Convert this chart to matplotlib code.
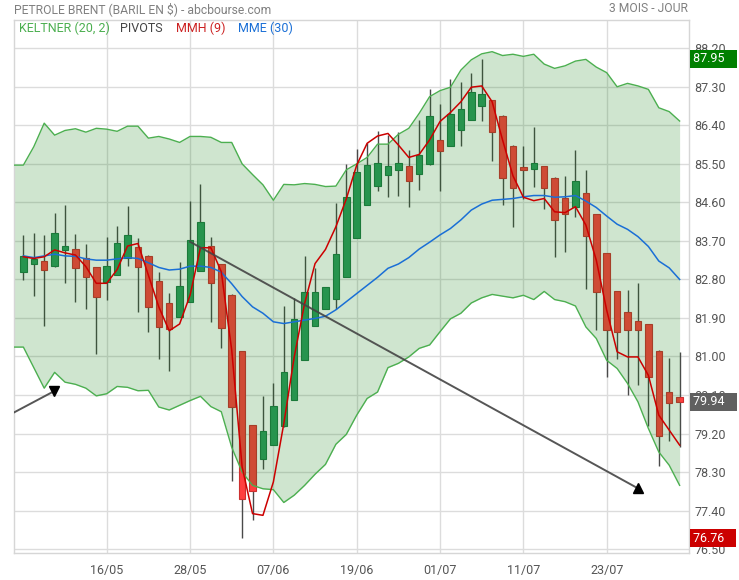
import numpy as np
import pandas as pd
import matplotlib
matplotlib.use("Agg")
import matplotlib.pyplot as plt
import matplotlib.transforms as mtransforms

plt.rcParams['font.family'] = ['Roboto', 'DejaVu Sans']

# Daily candles, 06/05 -> 01/08 (trading days)
opens = [82.98, 83.17, 83.23, 83.12, 83.49, 83.52, 83.29, 83.08, 82.75, 82.91,
         83.31, 83.56, 83.34, 82.76, 82.24, 81.93, 82.28, 83.00, 83.58, 83.15,
         82.43, 81.12, 79.39, 78.61, 78.94, 79.37, 79.99, 80.92, 81.72, 82.12,
         82.35, 82.86, 83.77, 84.55, 84.99, 85.25, 85.36, 85.45, 85.27, 85.49,
         86.06, 85.92, 86.30, 86.53, 86.84, 86.99, 86.62, 85.92, 85.43, 85.39,
         85.44, 85.18, 84.70, 84.50, 84.82, 84.32, 83.41, 82.52, 82.05, 81.84,
         81.76, 81.14, 80.16, 80.05]
highs = [83.84, 83.89, 83.84, 84.35, 84.54, 83.86, 83.63, 83.10, 83.79, 84.05,
         84.51, 83.76, 83.36, 82.98, 82.48, 83.21, 84.63, 85.03, 83.79, 83.17,
         82.45, 81.13, 79.40, 80.07, 80.38, 82.18, 82.36, 83.35, 83.07, 82.63,
         84.58, 85.50, 85.85, 85.98, 86.27, 86.17, 86.24, 85.82, 86.52, 87.25,
         86.90, 87.48, 87.41, 87.62, 87.95, 87.00, 86.63, 85.93, 85.92, 86.35,
         85.45, 85.19, 85.22, 85.82, 85.36, 84.33, 83.42, 82.53, 82.55, 82.71,
         81.77, 81.15, 80.96, 81.11]
lows = [82.78, 82.41, 81.72, 83.10, 82.72, 82.28, 82.11, 81.06, 82.32, 82.90,
        83.11, 82.04, 81.58, 80.95, 80.66, 81.92, 82.27, 82.99, 81.81, 81.19,
        78.09, 76.76, 77.19, 78.38, 78.93, 79.36, 79.98, 80.91, 81.71, 82.11,
        82.12, 82.85, 83.76, 84.54, 84.87, 84.73, 84.76, 84.50, 84.90, 85.48,
        84.87, 85.91, 85.92, 86.52, 86.51, 85.57, 84.55, 84.03, 84.69, 84.97,
        84.45, 83.33, 83.45, 84.25, 82.58, 81.62, 80.52, 80.95, 80.10, 80.33,
        79.38, 78.45, 79.03, 78.89]
closes = [83.35, 83.28, 83.03, 83.88, 83.58, 83.06, 82.86, 82.40, 83.11, 83.65,
          83.84, 83.10, 82.16, 81.69, 81.64, 82.64, 83.72, 84.14, 82.72, 81.67,
          79.81, 77.66, 77.86, 79.25, 79.84, 80.64, 81.87, 82.50, 82.50, 82.62,
          83.39, 84.73, 85.31, 85.47, 85.52, 85.46, 85.52, 85.11, 85.70, 86.62,
          85.81, 86.67, 86.78, 87.18, 87.13, 86.25, 85.18, 84.93, 85.35, 85.51,
          84.94, 84.18, 84.34, 85.10, 83.82, 82.50, 81.63, 81.58, 81.63, 81.63,
          80.52, 79.15, 79.92, 79.94]

# MMH (9) and MME (30)
mmh = [83.33, 83.29, 83.33, 83.49, 83.42, 83.37, 83.10, 82.71, 82.71, 83.03,
       83.58, 83.64, 82.90, 82.16, 81.60, 81.76, 82.43, 83.54, 83.54, 82.98,
       81.15, 78.42, 77.33, 77.29, 78.07, 79.43, 80.99, 82.24, 83.17, 83.50,
       84.03, 84.68, 85.47, 85.98, 86.15, 86.21, 85.94, 85.65, 85.72, 86.06,
       86.49, 86.70, 86.95, 87.29, 87.32, 86.95, 86.06, 85.22, 84.72, 84.64,
       84.69, 84.38, 84.36, 84.50, 84.07, 83.25, 82.08, 81.11, 80.99, 80.99,
       80.56, 79.63, 79.28, 78.93]
mme = [83.35, 83.31, 83.35, 83.39, 83.35, 83.34, 83.28, 83.25, 83.25, 83.28,
       83.31, 83.29, 83.19, 83.08, 83.02, 83.04, 83.11, 83.11, 83.08, 82.97,
       82.70, 82.40, 82.16, 82.01, 81.81, 81.77, 81.81, 81.85, 81.89, 81.94,
       82.09, 82.28, 82.47, 82.66, 82.85, 83.06, 83.16, 83.31, 83.51, 83.67,
       83.84, 83.99, 84.19, 84.42, 84.56, 84.65, 84.67, 84.69, 84.73, 84.76,
       84.76, 84.72, 84.73, 84.76, 84.63, 84.48, 84.28, 84.09, 83.97, 83.80,
       83.57, 83.23, 83.07, 82.80]

# Keltner (20, 2) band, starting one day before the first candle
kelt_upper = [85.47, 85.47, 85.90, 86.45, 86.17, 86.28, 86.32, 86.24, 86.33, 86.31,
              86.26, 86.38, 86.38, 86.10, 86.14, 86.08, 86.00, 86.14, 86.14, 86.12,
              86.00, 86.00, 85.50, 85.25, 85.01, 84.65, 85.02, 85.01, 85.04, 85.02,
              84.97, 84.98, 85.36, 85.50, 85.65, 85.96, 85.96, 86.19, 86.33, 86.68,
              87.07, 87.21, 87.29, 87.69, 87.93, 88.07, 88.12, 88.03, 88.06, 88.01,
              88.06, 87.83, 87.73, 87.79, 87.90, 87.94, 87.76, 87.63, 87.30, 87.38,
              87.32, 87.24, 86.81, 86.72, 86.50]
kelt_lower = [81.22, 81.22, 80.74, 80.26, 80.63, 80.40, 80.35, 80.26, 80.08, 80.13,
              80.30, 80.28, 80.20, 80.21, 79.82, 79.75, 79.86, 79.97, 80.07, 79.83,
              79.71, 78.88, 78.30, 77.99, 77.91, 77.89, 77.59, 77.76, 77.99, 78.25,
              78.48, 78.95, 79.18, 79.63, 80.02, 80.17, 80.74, 80.84, 80.99, 81.19,
              81.27, 81.58, 81.88, 82.01, 82.25, 82.37, 82.45, 82.41, 82.37, 82.43,
              82.33, 82.52, 82.33, 82.28, 82.18, 81.69, 81.42, 80.91, 80.72, 80.37,
              79.94, 79.32, 78.77, 78.46, 77.99]

# trend lines drawn on the chart (day index, price)
trend1_x = [-1, 2.95]
trend1_y = [79.68, 80.19]
trend2_x = [16, 59]
trend2_y = [83.68, 77.92]

y_ticks = [76.50, 77.40, 78.30, 79.20, 80.10, 81.00, 81.90, 82.80,
           83.70, 84.60, 85.50, 86.40, 87.30, 88.20]
tick_days = [8, 16, 24, 32, 40, 48, 56]

# price tags on the right axis
tag_values = [87.95, 79.94, 76.76]
tag_colors = ['#008000', '#606060', '#cc0000']

dates = pd.bdate_range("2024-05-06", periods=len(closes))
x = np.arange(len(closes))
band_x = np.arange(-1, len(closes))

opens = np.array(opens)
closes = np.array(closes)

fig = plt.figure(figsize=(7.39, 5.80), dpi=100)
ax = fig.add_axes([14 / 739, 1 - 553 / 580, (689 - 14) / 739, (553 - 20) / 580])

# candles
up = closes >= opens
body_col = np.where(up, '#2e9a5e', '#ff3f3f')
edge_col = np.where(up, '#1f7a45', '#cc3030')
ax.vlines(x, lows, highs, color='#4a4a4a', lw=1, zorder=1)
ax.bar(x, np.maximum(np.abs(closes - opens), 0.06), bottom=np.minimum(opens, closes),
       width=0.62, color=body_col, edgecolor=edge_col, linewidth=0.8, zorder=1.5)

# keltner band on top of the candles
ax.fill_between(band_x, kelt_lower, kelt_upper, color='#0f7d0f', alpha=0.2, lw=0, zorder=2)
ax.plot(band_x, kelt_upper, color='#4caf50', lw=1, zorder=3)
ax.plot(band_x, kelt_lower, color='#4caf50', lw=1, zorder=3)

# moving averages
ax.plot(x, mme, color='#1a6fd6', lw=1.1, zorder=4)
ax.plot(x, mmh, color='#cc0000', lw=1.1, zorder=4)

# trend lines
ax.plot(trend1_x, trend1_y, color='#444444', lw=1.4, alpha=0.9, zorder=5)
ax.plot(trend1_x[-1], trend1_y[-1], marker='v', color='black', ms=7, zorder=6)
ax.plot(trend2_x, trend2_y, color='#444444', lw=1.4, alpha=0.9, zorder=5)
ax.plot(trend2_x[-1], trend2_y[-1], marker='^', color='black', ms=7, zorder=6)

ax.set_xlim(-0.9, 63.9)
ax.set_ylim(76.41, 88.86)

ax.set_yticks(y_ticks)
ax.set_yticklabels(["%.2f" % v for v in y_ticks])
ax.set_xticks(tick_days)
ax.set_xticklabels([dates[i].strftime("%d/%m") for i in tick_days])
ax.yaxis.tick_right()
ax.tick_params(axis='y', length=0, pad=4, labelsize=9, labelcolor='#555555')
ax.tick_params(axis='x', length=0, pad=8, labelsize=9, labelcolor='#555555')
ax.grid(True, color='#dcdcdc', lw=1)
ax.set_axisbelow(True)
for s in ax.spines.values():
    s.set_color('#d6d6d6')
    s.set_linewidth(1)

# right-side price tags
trans = mtransforms.blended_transform_factory(ax.transAxes, ax.transData)
for v, c in zip(tag_values, tag_colors):
    ax.text(1.006, v, "%.2f   " % v, transform=trans, ha='left', va='center',
            fontsize=9, color='white', clip_on=False, zorder=10,
            bbox=dict(boxstyle='square,pad=0.22', fc=c, ec='none'))

# header
fig.text(14 / 739, 1 - 9 / 580, "PETROLE BRENT (BARIL EN $) - abcbourse.com",
         ha='left', va='center', fontsize=8.7, color='#808080')
fig.text(688 / 739, 1 - 9 / 580, "3 MOIS - JOUR", ha='right', va='center',
         fontsize=8.7, color='#808080')

# legend row inside the chart
legend_items = [("KELTNER (20, 2)", '#4caf50', 19), ("PIVOTS", '#444444', 120),
                ("MMH (9)", '#cc2222', 176), ("MME (30)", '#1a6fd6', 238)]
for label, col, px in legend_items:
    ax.text((px - 14) / 675, 1 - 8 / 533, label, transform=ax.transAxes,
            ha='left', va='center', fontsize=9, color=col)

fig.savefig("out.png", dpi=100)
